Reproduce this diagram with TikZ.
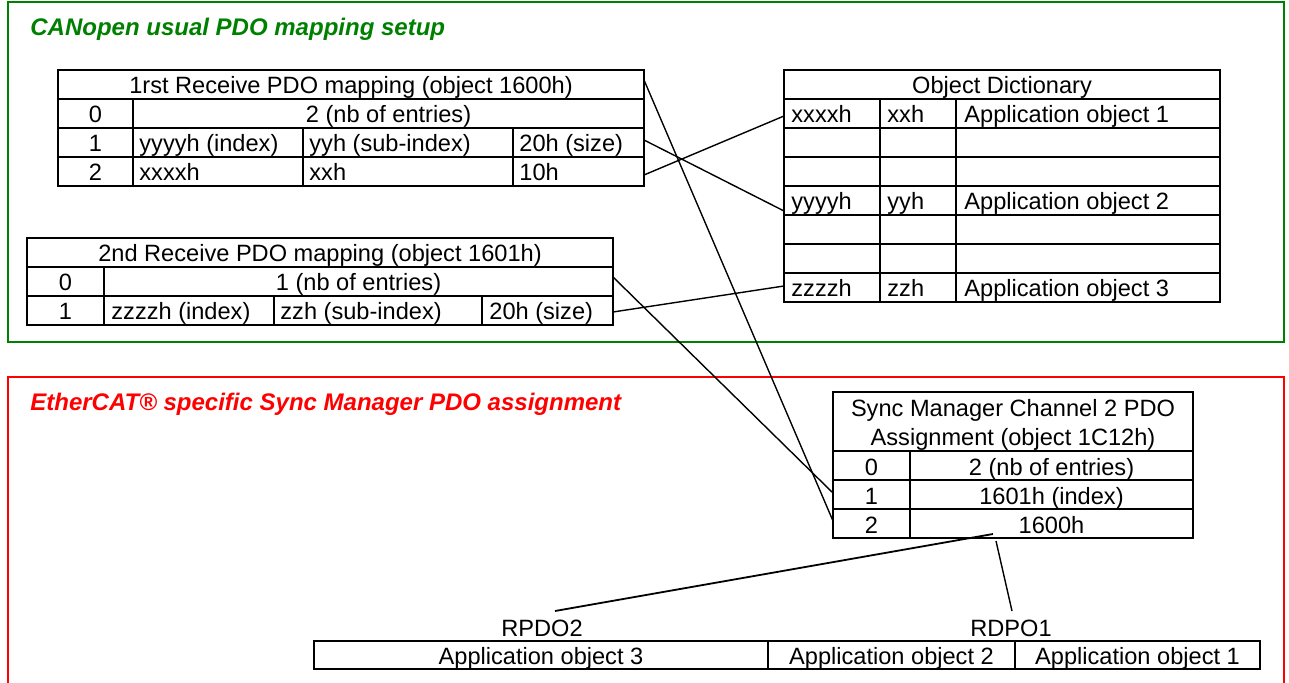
\documentclass[tikz,border=0pt]{standalone}
\usepackage{fontspec}
\setmainfont{Liberation Sans}
\definecolor{cangreen}{RGB}{0,128,0}
\definecolor{ecred}{RGB}{255,0,0}
\tikzset{
  txt/.style={inner sep=0pt, font=\fontsize{11.8}{14.5}\selectfont, text height=11pt, text depth=1.5pt},
  ltxt/.style={txt, anchor=west},
  title/.style={inner sep=0pt, anchor=west, font=\fontsize{12}{14.5}\selectfont\bfseries\itshape},
  tab/.style={line width=.75pt},
  link/.style={line width=.7pt}
}

\begin{document}
\begin{tikzpicture}[x=.5pt,y=-.5pt]
\useasboundingbox (0,0) rectangle (1289,683);

% frames
\draw[cangreen, line width=1pt] (8,2) rectangle (1284,342);
\draw[ecred, line width=1pt] (8,377) rectangle (1284,700);
\node[title, text=cangreen] (cantitle) at (30,29) {CANopen usual PDO mapping setup};
\node[title, text=ecred] (ectitle) at (30,404) {EtherCAT® specific Sync Manager PDO assignment};

% 1rst receive PDO mapping
\draw[tab] (58,70) rectangle (644,186);
\draw[tab] (58,99) -- (644,99) (58,128) -- (644,128) (58,157) -- (644,157);
\draw[tab] (133,99) -- (133,186) (303,128) -- (303,186) (513,128) -- (513,186);
\node[txt] (map1) at (351,84.5) {1rst Receive PDO mapping (object 1600h)};
\node[txt] (map1n0) at (95.5,113.5) {0};
\node[txt] (map1nb) at (388.5,113.5) {2 (nb of entries)};
\node[txt] (map1n1) at (95.5,142.5) {1};
\node[ltxt] (map1i1) at (139,142.5) {yyyyh (index)};
\node[ltxt] (map1s1) at (309,142.5) {yyh (sub-index)};
\node[ltxt] (map1z1) at (519,142.5) {20h (size)};
\node[txt] (map1n2) at (95.5,171.5) {2};
\node[ltxt] (map1i2) at (139,171.5) {xxxxh};
\node[ltxt] (map1s2) at (309,171.5) {xxh};
\node[ltxt] (map1z2) at (519,171.5) {10h};

% 2nd receive PDO mapping
\draw[tab] (27,238) rectangle (613,325);
\draw[tab] (27,267) -- (613,267) (27,296) -- (613,296);
\draw[tab] (104,267) -- (104,325) (274,296) -- (274,325) (482,296) -- (482,325);
\node[txt] (map2) at (320,252.5) {2nd Receive PDO mapping (object 1601h)};
\node[txt] (map2n0) at (65.5,281.5) {0};
\node[txt] (map2nb) at (358.5,281.5) {1 (nb of entries)};
\node[txt] (map2n1) at (65.5,310.5) {1};
\node[ltxt] (map2i1) at (111,310.5) {zzzzh (index)};
\node[ltxt] (map2s1) at (280,310.5) {zzh (sub-index)};
\node[ltxt] (map2z1) at (489,310.5) {20h (size)};

% object dictionary
\draw[tab] (784,70) rectangle (1220,302);
\foreach \y in {99,128,157,186,215,244,273}
  \draw[tab] (784,\y) -- (1220,\y);
\draw[tab] (880,99) -- (880,302) (956,99) -- (956,302);
\node[txt] (od) at (1002,84.5) {Object Dictionary};
\node[ltxt] (odx) at (791,113.5) {xxxxh};
\node[ltxt] (odxs) at (887,113.5) {xxh};
\node[ltxt] (odxa) at (964,113.5) {Application object 1};
\node[ltxt] (ody) at (791,200.5) {yyyyh};
\node[ltxt] (odys) at (887,200.5) {yyh};
\node[ltxt] (odya) at (964,200.5) {Application object 2};
\node[ltxt] (odz) at (791,287.5) {zzzzh};
\node[ltxt] (odzs) at (887,287.5) {zzh};
\node[ltxt] (odza) at (964,287.5) {Application object 3};

% sync manager channel 2
\draw[tab] (833,392) rectangle (1193,538);
\draw[tab] (833,451) -- (1193,451) (833,480) -- (1193,480) (833,509) -- (1193,509);
\draw[tab] (910,451) -- (910,538);
\node[txt] (sm) at (1013,407.5) {Sync Manager Channel 2 PDO};
\node[txt] (smb) at (1013,436.5) {Assignment (object 1C12h)};
\node[txt] (smn0) at (871.5,465.5) {0};
\node[txt] (smnb) at (1051.5,465.5) {2 (nb of entries)};
\node[txt] (smn1) at (871.5,494.5) {1};
\node[txt] (smi1) at (1051.5,494.5) {1601h (index)};
\node[txt] (smn2) at (871.5,523.5) {2};
\node[txt] (smi2) at (1051.5,523.5) {1600h};

% process data
\draw[tab] (314,641) rectangle (1260,669);
\draw[tab] (768,641) -- (768,669) (1015,641) -- (1015,669);
\node[txt] (pd3) at (541,655) {Application object 3};
\node[txt] (pd2) at (891.5,655) {Application object 2};
\node[txt] (pd1) at (1137.5,655) {Application object 1};
\node[txt] (rpdo2) at (542,627) {RPDO2};
\node[txt] (rdpo1) at (1011,627) {RDPO1};

% links
\coordinate (map1hdr) at (644,80);
\coordinate (map1r1) at (644,140);
\coordinate (map1r2) at (644,175);
\coordinate (map2r0) at (613,277);
\coordinate (map2r1) at (613,312);
\coordinate (odxin) at (784,116);
\coordinate (odyin) at (784,211);
\coordinate (odzin) at (784,286);
\coordinate (sm1in) at (833,493);
\coordinate (sm2in) at (833,521);
\coordinate (sm2a) at (993,534);
\coordinate (sm2b) at (996,541);
\coordinate (rpdo2in) at (555,611);
\coordinate (rdpo1in) at (1012,611);
\draw[link] (map1hdr) -- (sm2in);
\draw[link] (map1r1) -- (odyin);
\draw[link] (map1r2) -- (odxin);
\draw[link] (map2r0) -- (sm1in);
\draw[link] (map2r1) -- (odzin);
\draw[link, line width=.9pt] (sm2a) -- (rpdo2in);
\draw[link] (sm2b) -- (rdpo1in);

\end{tikzpicture}
\end{document}
